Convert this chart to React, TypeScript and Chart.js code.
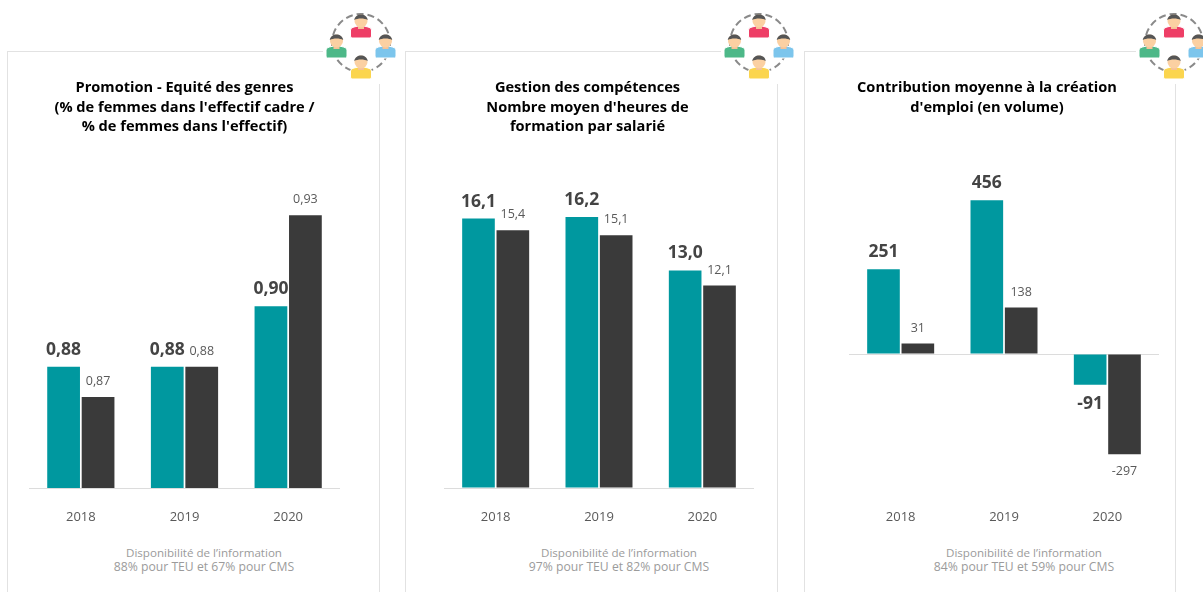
import React, { useEffect, useRef } from "react";
import { Chart, registerables } from "chart.js";

Chart.register(...registerables);

const years = ["2018", "2019", "2020"];
const seriesNames = ["TEU", "CMS"];

const promotionTeu = [0.88, 0.88, 0.9];
const promotionCms = [0.87, 0.88, 0.93];
const formationTeu = [16.1, 16.2, 13.0];
const formationCms = [15.4, 15.1, 12.1];
const emploiTeu = [251, 456, -91];
const emploiCms = [31, 138, -297];

const titlePromotion = ["Promotion - Equité des genres", "(% de femmes dans l'effectif cadre /", "% de femmes dans l'effectif)"];
const titleFormation = ["Gestion des compétences", "Nombre moyen d'heures de", "formation par salarié"];
const titleEmploi = ["Contribution moyenne à la création", "d'emploi (en volume)"];

const footerPromotion = ["Disponibilité de l’information", "88% pour TEU et 67% pour CMS"];
const footerFormation = ["Disponibilité de l’information", "97% pour TEU et 82% pour CMS"];
const footerEmploi = ["Disponibilité de l’information", "84% pour TEU et 59% pour CMS"];

const TEAL = "#00989f";
const DARK = "#3a3a3a";
const FONT = "'Open Sans', 'Noto Sans', sans-serif";

const valueLabels = {
  id: "valueLabels",
  afterDatasetsDraw(chart: any, _a: any, opts: any) {
    const ctx = chart.ctx;
    ctx.save();
    ctx.textAlign = "center";
    ctx.textBaseline = "middle";
    chart.data.datasets.forEach((ds: any, di: number) => {
      const meta = chart.getDatasetMeta(di);
      meta.data.forEach((bar: any, i: number) => {
        const v = ds.data[i];
        const txt = v.toFixed(opts.decimals).replace(".", ",");
        const bold = di === 0;
        ctx.font = bold ? `700 17.5px ${FONT}` : `400 12.5px ${FONT}`;
        ctx.fillStyle = bold ? "#444444" : "#595959";
        const off = bold ? 17 : 15.5;
        ctx.fillText(txt, bar.x, v < 0 ? bar.y + off + 2 : bar.y - off);
      });
    });
    ctx.restore();
  },
};

function BarCard(props: {
  teu: number[];
  cms: number[];
  title: string[];
  footer: string[];
  decimals: number;
  min: number;
  max: number;
  cardLeft: number;
  cardWidth: number;
  canvasLeft: number;
  canvasTop: number;
  canvasWidth: number;
  padLeft: number;
  titleTop: number;
  titleBottom: number;
  tickPadding: number;
  footerCenter: number;
  iconCenter: number;
  zeroLine: boolean;
}) {
  const ref = useRef<HTMLCanvasElement>(null);
  useEffect(() => {
    const chart = new Chart(ref.current as HTMLCanvasElement, {
      type: "bar",
      data: {
        labels: years,
        datasets: [
          { label: seriesNames[0], data: props.teu, backgroundColor: TEAL },
          { label: seriesNames[1], data: props.cms, backgroundColor: DARK },
        ],
      },
      plugins: [valueLabels],
      options: {
        animation: false,
        responsive: false,
        events: [],
        layout: { padding: 0 },
        datasets: { bar: { categoryPercentage: 0.665, barPercentage: 0.95 } },
        scales: {
          x: {
            grid: { display: false, drawTicks: false },
            border: { display: !props.zeroLine, color: "#dcdcdc", width: 1 },
            ticks: { color: "#595959", font: { family: FONT, size: 13 }, padding: props.tickPadding, maxRotation: 0 },
            afterFit(scale: any) {
              scale.height = 40;
            },
          },
          y: {
            min: props.min,
            max: props.max,
            border: { display: false },
            ticks: { display: false, stepSize: 100 },
            grid: {
              drawTicks: false,
              color: (c: any) => (props.zeroLine && c.tick && c.tick.value === 0 ? "#dcdcdc" : "rgba(0,0,0,0)"),
            },
            afterFit(scale: any) {
              scale.width = props.padLeft;
            },
          },
        },
        plugins: {
          legend: { display: false },
          tooltip: { enabled: false },
          valueLabels: { decimals: props.decimals },
          title: {
            display: true,
            text: props.title,
            color: "#000000",
            font: { family: FONT, size: 14.6, weight: "bold", lineHeight: 1.34 },
            padding: { top: props.titleTop, bottom: props.titleBottom },
          },
        },
      } as any,
    });
    return () => chart.destroy();
  }, []);

  return (
    <>
      <div
        style={{
          position: "absolute",
          left: props.cardLeft,
          top: 51,
          width: props.cardWidth,
          height: 560,
          border: "1px solid #e2e2e2",
          boxSizing: "border-box",
        }}
      />
      <Icon cx={props.iconCenter} />
      <canvas
        ref={ref}
        width={props.canvasWidth}
        height={468}
        style={{ position: "absolute", left: props.canvasLeft, top: props.canvasTop, width: props.canvasWidth, height: 468 }}
      />
      <div
        style={{
          position: "absolute",
          left: props.footerCenter - 150,
          width: 300,
          top: 546,
          textAlign: "center",
          font: `12.2px/13.5px ${FONT}`,
          color: "#9b9b9b",
        }}
      >
        {props.footer.map((l, i) => (
          <div key={l} style={i === 0 ? { fontSize: 11.6 } : undefined}>
            {l}
          </div>
        ))}
      </div>
    </>
  );
}

function Person({ x, y, color }: { x: number; y: number; color: string }) {
  return (
    <g transform={`translate(${x} ${y})`}>
      <path
        d="M-10.5 15 V9 Q-10.5 6.5 -7 6 L-3 5 H3 L7 6 Q10.5 6.5 10.5 9 V15 Q10.5 17 9 17 H-9 Q-10.5 17 -10.5 15 Z"
        fill={color}
        stroke="#ffffff"
        strokeWidth={1}
      />
      <rect x={-3} y={3} width={6} height={5} fill="#f5c296" />
      <circle cx={0} cy={0} r={6.5} fill="#fbd0a2" />
      <path d="M-6.7 -1 C-6 -8.5 6 -8.5 6.7 -1 C3.5 -3 -3.5 -3 -6.7 -1 Z" fill="#555555" />
    </g>
  );
}

function Icon({ cx }: { cx: number }) {
  return (
    <svg
      width={80}
      height={76}
      viewBox="-40 -36 80 76"
      style={{ position: "absolute", left: cx - 40, top: 8 }}
    >
      <rect x={-38} y={-36} width={76} height={76} fill="#ffffff" />
      <circle cx={0} cy={-1} r={29} fill="none" stroke="#8a8a8a" strokeWidth={2} strokeDasharray="7 4" />
      <Person x={0} y={-23} color="#ee3e66" />
      <Person x={-24.5} y={-3} color="#4db888" />
      <Person x={24.5} y={-3} color="#7cc5ec" />
      <Person x={0} y={18} color="#fbd54e" />
    </svg>
  );
}

export default function App() {
  return (
    <div style={{ position: "absolute", left: 0, top: 0, width: 1203, height: 592, overflow: "hidden", background: "#fff" }}>
      <BarCard
        teu={promotionTeu}
        cms={promotionCms}
        title={titlePromotion}
        footer={footerPromotion}
        decimals={2}
        min={0.84}
        max={0.951}
        cardLeft={7}
        cardWidth={373}
        canvasLeft={29}
        canvasTop={60}
        canvasWidth={311}
        padLeft={0}
        titleTop={18}
        titleBottom={15}
        tickPadding={21}
        footerCenter={204}
        iconCenter={361}
        zeroLine={false}
      />
      <BarCard
        teu={formationTeu}
        cms={formationCms}
        title={titleFormation}
        footer={footerFormation}
        decimals={1}
        min={0}
        max={20.1}
        cardLeft={405}
        cardWidth={373}
        canvasLeft={421}
        canvasTop={60}
        canvasWidth={333}
        padLeft={23}
        titleTop={18}
        titleBottom={15}
        tickPadding={21}
        footerCenter={619}
        iconCenter={759}
        zeroLine={false}
      />
      <BarCard
        teu={emploiTeu}
        cms={emploiCms}
        title={titleEmploi}
        footer={footerEmploi}
        decimals={0}
        min={-400}
        max={600}
        cardLeft={804}
        cardWidth={372}
        canvasLeft={815}
        canvasTop={61}
        canvasWidth={344}
        padLeft={34}
        titleTop={17}
        titleBottom={34.5}
        tickPadding={20}
        footerCenter={1024}
        iconCenter={1174}
        zeroLine={true}
      />
    </div>
  );
}
